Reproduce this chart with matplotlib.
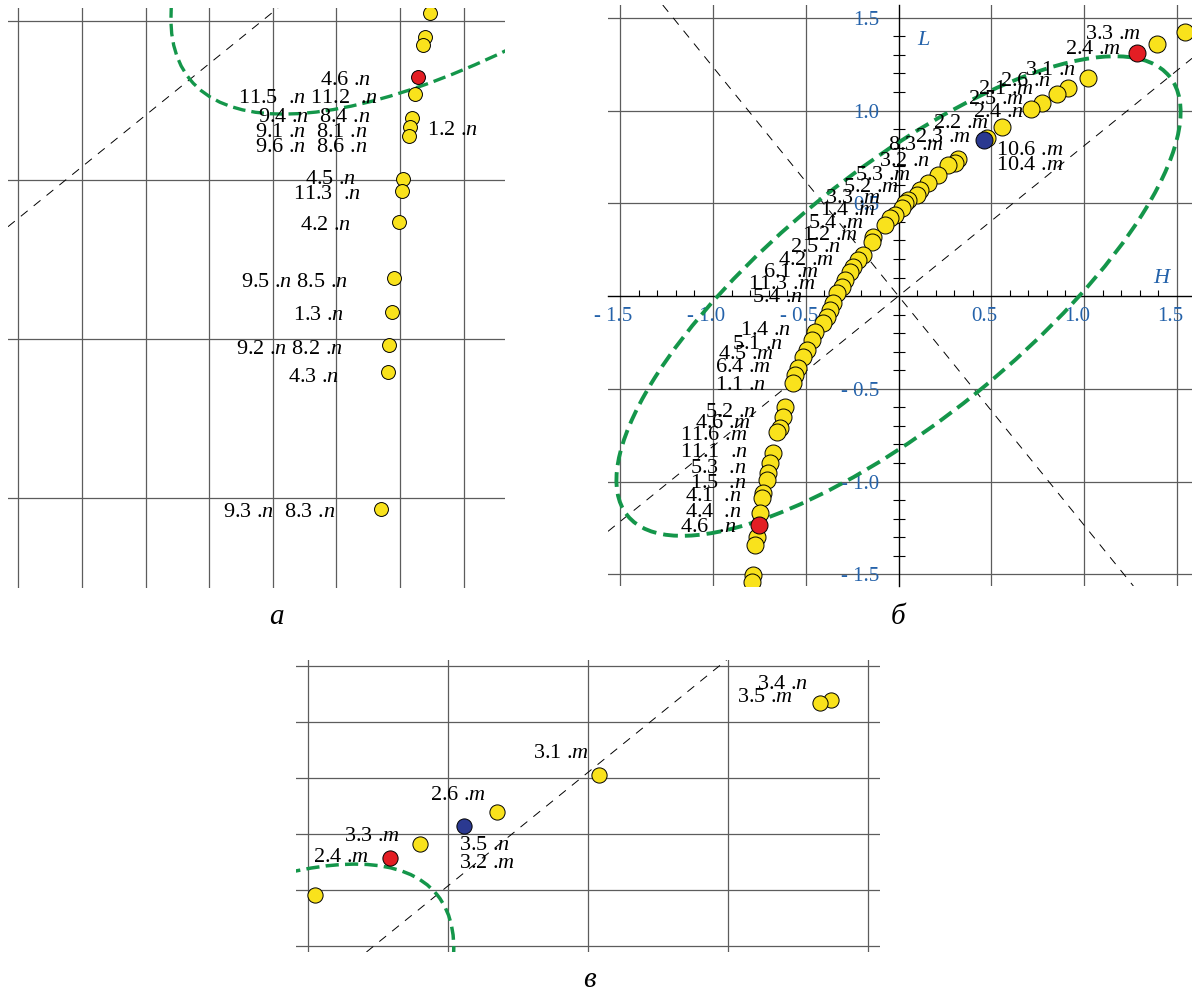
import numpy as np
import matplotlib
matplotlib.use('Agg')
import matplotlib.pyplot as plt
from matplotlib.patches import Ellipse
from matplotlib.transforms import ScaledTranslation

plt.rcParams['font.family'] = ['Liberation Serif', 'DejaVu Serif']
plt.rcParams['mathtext.fontset'] = 'custom'
plt.rcParams['mathtext.rm'] = 'Liberation Serif'
plt.rcParams['mathtext.it'] = 'Liberation Serif:italic'

W, H = 1192, 994

# ellipse and its two axes (same in every panel)
ell_a = 1.88
ell_b = 0.67
ell_angle = 39.0
axis_slope = 0.81

# ---- panel a (lower branch, zoomed) ----
a_x = [-0.706, -0.721, -0.727, -0.753, -0.762, -0.769, -0.772, -0.791,
       -0.794, -0.803, -0.819, -0.825, -0.835, -0.838, -0.860]
a_y = [-0.974, -1.050, -1.075, -1.230, -1.305, -1.333, -1.362, -1.497,
       -1.535, -1.632, -1.808, -1.915, -2.019, -2.104, -2.535]
a_red_x = [-0.744]
a_red_y = [-1.176]
a_labels = ['4.6 .$n$', '11.5  .$n$ 11.2  .$n$', '9.4 .$n$  8.4 .$n$',
            '9.1 .$n$  8.1 .$n$', '9.6 .$n$  8.6 .$n$', '1.2 .$n$', '4.5 .$n$',
            '11.3  .$n$', '4.2 .$n$', '9.5 .$n$ 8.5 .$n$', '1.3 .$n$',
            '9.2 .$n$ 8.2 .$n$', '4.3 .$n$', '9.3 .$n$  8.3 .$n$']
a_lab_x = [-1.052, -1.309, -1.247, -1.256, -1.256, -0.715, -1.099,
           -1.137, -1.115, -1.300, -1.137, -1.316, -1.152, -1.356]
a_lab_y = [-1.179, -1.236, -1.296, -1.343, -1.390, -1.336, -1.491,
           -1.538, -1.635, -1.814, -1.918, -2.025, -2.113, -2.538]
a_xgrid = [-2.0, -1.8, -1.6, -1.4, -1.2, -1.0, -0.8, -0.6]
a_ygrid = [-2.5, -2.0, -1.5, -1.0]

# ---- panel b (whole picture) ----
b_x = [1.544, 1.394, 1.022, 0.914, 0.854, 0.774, 0.714, 0.558, 0.477, 0.321,
       0.305, 0.267, 0.213, 0.159, 0.116, 0.100, 0.051, 0.035, 0.019, -0.019,
       -0.046, -0.073, -0.137, -0.143, -0.191, -0.218, -0.245, -0.261, -0.288,
       -0.305, -0.332, -0.353, -0.369, -0.385, -0.407, -0.450, -0.466, -0.493,
       -0.515, -0.542, -0.558, -0.569, -0.612, -0.623, -0.639, -0.655, -0.677,
       -0.693, -0.704, -0.709, -0.730, -0.736, -0.747, -0.763, -0.774, -0.784,
       -0.790]
b_y = [1.423, 1.358, 1.175, 1.121, 1.089, 1.040, 1.008, 0.911, 0.852, 0.739,
       0.717, 0.706, 0.652, 0.609, 0.571, 0.544, 0.518, 0.501, 0.474, 0.437,
       0.420, 0.383, 0.318, 0.291, 0.221, 0.194, 0.156, 0.129, 0.086,
       0.049, 0.016, -0.038, -0.075, -0.113, -0.146, -0.194, -0.237, -0.291,
       -0.329, -0.388, -0.426, -0.469, -0.598, -0.652, -0.712, -0.733, -0.846,
       -0.900, -0.954, -0.992, -1.062, -1.089, -1.170, -1.299, -1.342, -1.504,
       -1.542]
b_red_x = [1.286, -0.752]
b_red_y = [1.310, -1.235]
b_blue_x = [0.461]
b_blue_y = [0.841]
b_labels = ['3.3 .$m$', '2.4 .$m$', '3.1 .$n$', '2.6 .$n$', '2.1 .$m$', '2.5 .$m$',
            '2.4 .$n$', '2.2 .$m$', '2.3 .$m$', '8.3 .$m$', '3.2 .$n$', '5.3 .$m$',
            '5.2 .$m$', '3.3 .$m$', '1.4 .$m$', '5.4 .$m$', '1.2 .$m$', '2.5 .$n$',
            '4.2 .$m$', '6.1 .$m$', '11.3 .$m$', '5.4 .$n$', '10.6 .$m$', '10.4 .$m$',
            '1.4 .$n$', '5.1 .$n$', '4.5 .$m$', '6.4 .$m$', '1.1 .$n$', '5.2 .$n$',
            '4.6 .$m$', '11.6 .$m$', '11.1  .$n$', '5.3  .$n$', '1.5  .$n$',
            '4.1  .$n$', '4.4  .$n$', '4.6  .$n$']
b_lab_x = [1.005, 0.898, 0.682, 0.547, 0.429, 0.375, 0.402, 0.186, 0.089, -0.057,
           -0.105, -0.235, -0.299, -0.396, -0.423, -0.488, -0.520, -0.585, -0.650,
           -0.730, -0.811, -0.790, 0.526, 0.526, -0.854, -0.898, -0.973, -0.989,
           -0.989, -1.043, -1.097, -1.178, -1.178, -1.124, -1.124, -1.151, -1.151,
           -1.178]
b_lab_y = [1.423, 1.342, 1.229, 1.170, 1.127, 1.073, 1.003, 0.943, 0.868, 0.825,
           0.739, 0.663, 0.598, 0.539, 0.474, 0.404, 0.340, 0.275, 0.205, 0.140,
           0.075, 0.005, 0.798, 0.717, -0.173, -0.248, -0.302, -0.372, -0.469,
           -0.615, -0.674, -0.739, -0.830, -0.916, -0.997, -1.067, -1.154, -1.235]
b_grid = [-1.5, -1.0, -0.5, 0.5, 1.0, 1.5]
b_xticklabels = ['- 1.5', '- 1.0', '- 0.5', '0.5', '1.0', '1.5']
b_yticklabels = ['- 1.5', '- 1.0', '- 0.5', '0.5', '1.0', '1.5']
b_minor = [-1.5, -1.4, -1.3, -1.2, -1.1, -1.0, -0.9, -0.8, -0.7, -0.6, -0.5, -0.4,
           -0.3, -0.2, -0.1, 0.1, 0.2, 0.3, 0.4, 0.5, 0.6, 0.7, 0.8, 0.9, 1.0, 1.1,
           1.2, 1.3, 1.4, 1.5]

# ---- panel v (upper branch, zoomed) ----
v_x = [2.868, 2.829, 2.039, 1.675, 1.400, 1.025]
v_y = [1.879, 1.868, 1.611, 1.479, 1.364, 1.182]
v_red_x = [1.293]
v_red_y = [1.314]
v_blue_x = [1.557]
v_blue_y = [1.429]
v_labels = ['3.4 .$n$', '3.5 .$m$', '3.1 .$m$', '2.6 .$m$', '3.3 .$m$', '2.4 .$m$',
            '3.5 .$n$', '3.2 .$m$']
v_lab_x = [2.604, 2.532, 1.804, 1.436, 1.129, 1.018, 1.539, 1.539]
v_lab_y = [1.943, 1.896, 1.696, 1.546, 1.400, 1.325, 1.368, 1.304]
v_xgrid = [1.0, 1.5, 2.0, 2.5, 3.0]
v_ygrid = [1.0, 1.2, 1.4, 1.6, 1.8, 2.0]

GREEN = '#14964a'
YELLOW = '#f9e21c'
RED = '#e31e24'
BLUE = '#2b3990'
TICKBLUE = '#2462aa'
GRID = '#5c5c5c'


def box(x0, y0, x1, y1):
    # pixel box -> figure fraction
    return [x0 / W, 1 - y1 / H, (x1 - x0) / W, (y1 - y0) / H]


def draw_common(ax, lw_ell, ms, pts, reds, blues, labels):
    ax.add_patch(Ellipse((0, 0), 2 * ell_a, 2 * ell_b, angle=ell_angle,
                         fill=False, edgecolor=GREEN, lw=lw_ell,
                         linestyle=(0, (3.8, 1.8)), zorder=2))
    ax.axline((0, 0), slope=axis_slope, color='black', lw=0.7,
              linestyle=(0, (9, 8)), zorder=1)
    ax.axline((0, 0), slope=-1 / axis_slope, color='black', lw=0.7,
              linestyle=(0, (9, 8)), zorder=1)
    ax.scatter(pts[0], pts[1], s=ms, c=YELLOW, edgecolors='black', linewidths=0.7, zorder=3)
    if reds is not None:
        ax.scatter(reds[0], reds[1], s=ms, c=RED, edgecolors='black', linewidths=0.7, zorder=4)
    if blues is not None:
        ax.scatter(blues[0], blues[1], s=ms, c=BLUE, edgecolors='black', linewidths=0.7, zorder=4)
    off = ax.transData + ScaledTranslation(0, -0.07, fig.dpi_scale_trans)
    for t, lx, ly in zip(labels[0], labels[1], labels[2]):
        ax.text(lx, ly, t, fontsize=16, ha='left', va='baseline',
                transform=off, zorder=5)


def plain_grid(ax, xg, yg):
    ax.set_xticks(xg)
    ax.set_yticks(yg)
    ax.tick_params(length=0, labelbottom=False, labelleft=False)
    ax.grid(True, color=GRID, lw=0.9)
    ax.set_axisbelow(True)
    for s in ax.spines.values():
        s.set_visible(False)


fig = plt.figure(figsize=(W / 100, H / 100), dpi=100)

# Panel a
ax_a = fig.add_axes(box(8, 8, 505, 588))
ax_a.set_xlim(-2.033, -0.470)
ax_a.set_ylim(-2.783, -0.959)
plain_grid(ax_a, a_xgrid, a_ygrid)
draw_common(ax_a, 2.4, 100, (a_x, a_y), (a_red_x, a_red_y), None,
            (a_labels, a_lab_x, a_lab_y))

# Panel b
ax_b = fig.add_axes(box(608, 5, 1192, 586))
ax_b.set_xlim(-1.566, 1.582)
ax_b.set_ylim(-1.563, 1.569)
ax_b.set_xticks(b_grid)
ax_b.set_xticklabels(b_xticklabels)
ax_b.set_yticks(b_grid)
ax_b.set_yticklabels(b_yticklabels)
ax_b.set_xticks(b_minor, minor=True)
ax_b.set_yticks(b_minor, minor=True)
ax_b.spines['left'].set_position('zero')
ax_b.spines['bottom'].set_position('zero')
ax_b.spines['top'].set_visible(False)
ax_b.spines['right'].set_visible(False)
for s in ['left', 'bottom']:
    ax_b.spines[s].set_linewidth(1.0)
    ax_b.spines[s].set_zorder(1.5)
ax_b.tick_params(which='major', length=0, labelsize=15, labelcolor=TICKBLUE)
ax_b.tick_params(axis='x', which='major', pad=8)
ax_b.tick_params(axis='y', which='major', pad=14)
ax_b.tick_params(axis='x', which='minor', direction='in', length=4, width=0.8)
ax_b.tick_params(axis='y', which='minor', direction='inout', length=8, width=0.8)
ax_b.grid(True, which='major', color=GRID, lw=0.9)
ax_b.set_axisbelow(True)
shift = ScaledTranslation(-0.07, 0, fig.dpi_scale_trans)
for lab in ax_b.get_xticklabels():
    lab.set_transform(lab.get_transform() + shift)
draw_common(ax_b, 2.8, 150, (b_x, b_y), (b_red_x, b_red_y), (b_blue_x, b_blue_y),
            (b_labels, b_lab_x, b_lab_y))
ax_b.text(0.137, 1.380, 'L', color=TICKBLUE, fontsize=16, style='italic',
          ha='center', va='center')
ax_b.text(1.415, 0.097, 'H', color=TICKBLUE, fontsize=16, style='italic',
          ha='center', va='center')

# Panel v
ax_v = fig.add_axes(box(296, 660, 880, 952))
ax_v.set_xlim(0.957, 3.043)
ax_v.set_ylim(0.979, 2.021)
plain_grid(ax_v, v_xgrid, v_ygrid)
draw_common(ax_v, 2.5, 120, (v_x, v_y), (v_red_x, v_red_y), (v_blue_x, v_blue_y),
            (v_labels, v_lab_x, v_lab_y))

# panel letters
fig.text(276 / W, 1 - 617 / H, 'а', fontsize=21, style='italic', ha='center', va='center')
fig.text(898 / W, 1 - 617 / H, 'б', fontsize=21, style='italic', ha='center', va='center')
fig.text(589 / W, 1 - 980 / H, 'в', fontsize=21, style='italic', ha='center', va='center')

fig.savefig('out.png', dpi=100)
